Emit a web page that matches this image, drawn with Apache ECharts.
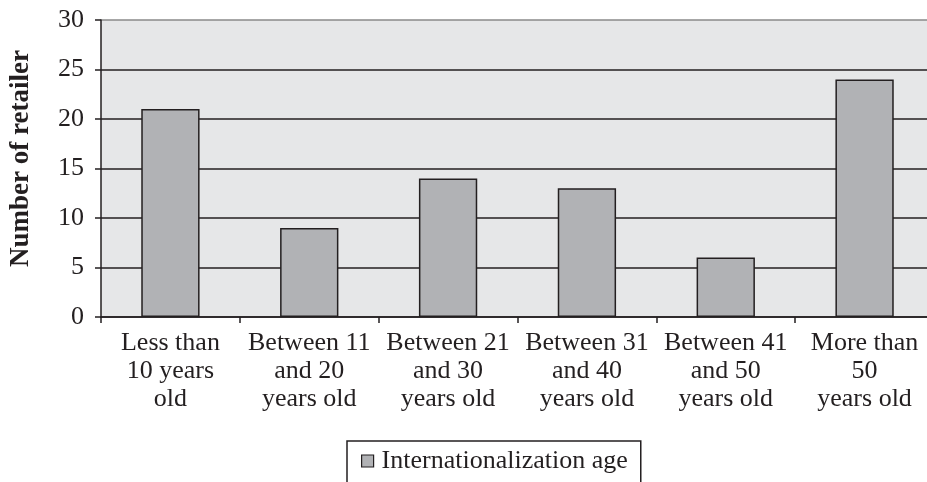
<!DOCTYPE html>
<html><head><meta charset="utf-8">
<script src="https://cdn.jsdelivr.net/npm/echarts@6/dist/echarts.min.js"></script>
<style>html,body{margin:0;padding:0;background:#fff}#c{width:927px;height:482px}</style>
</head><body><div id="c"></div>
<script>
var categories = ["Less than\n10 years\nold", "Between 11\nand 20\nyears old", "Between 21\nand 30\nyears old", "Between 31\nand 40\nyears old", "Between 41\nand 50\nyears old", "More than\n50\nyears old"];
var values = [21, 9, 14, 13, 6, 24];
var seriesName = "Internationalization age";
var yTitle = "Number of retailer";

var chart = echarts.init(document.getElementById('c'), null, {renderer: 'canvas'});
var font = '"Liberation Serif", "DejaVu Serif", serif';
var dark = '#231f20';
chart.setOption({
  animation: false,
  textStyle: {fontFamily: font},
  grid: {left: 101, right: -7, top: 20, bottom: 165, backgroundColor: '#e6e7e8', show: true, borderWidth: 0, outerBoundsMode: 'none', containLabel: false},
  legend: {
    data: [seriesName], top: 441, left: 347,
    icon: 'rect', itemWidth: 12, itemHeight: 12, itemGap: 4,
    borderColor: dark, borderWidth: 1.5,
    padding: [7, 13, 20, 14],
    textStyle: {fontFamily: font, fontSize: 26, color: dark, padding: [0, 0, 0, 3]},
    itemStyle: {borderColor: dark, borderWidth: 1.2}
  },
  xAxis: {
    type: 'category', data: categories,
    axisLine: {lineStyle: {color: dark, width: 1.5}},
    axisTick: {show: true, length: 6, lineStyle: {color: dark, width: 1.5}},
    axisLabel: {fontFamily: font, fontSize: 26, color: dark, lineHeight: 28, margin: 12, interval: 0}
  },
  yAxis: {
    type: 'value', min: 0, max: 30, interval: 5,
    name: yTitle, nameLocation: 'middle', nameGap: 66, nameRotate: 90,
    nameTextStyle: {fontFamily: font, fontSize: 27, fontWeight: 'bold', color: dark, padding: [0, 0, 0, 20]},
    axisLine: {show: true, lineStyle: {color: dark, width: 1.5}},
    axisTick: {show: true, length: 6, lineStyle: {color: dark, width: 1.5}},
    axisLabel: {fontFamily: font, fontSize: 26, color: dark, margin: 17},
    splitLine: {lineStyle: {color: [dark, dark, dark, dark, dark, dark, '#8a8a8a'], width: 1.5}}
  },
  series: [{
    name: seriesName, type: 'bar', data: values, barWidth: '42%',
    itemStyle: {color: '#b1b2b5', borderColor: dark, borderWidth: 1.5}
  }]
});
</script></body></html>
